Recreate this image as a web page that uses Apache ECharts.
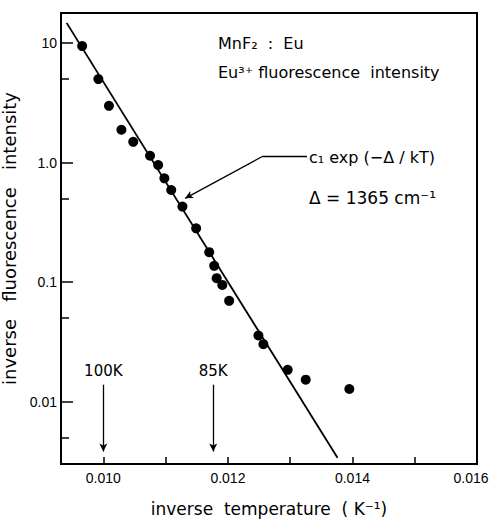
<!DOCTYPE html>
<html>
<head>
<meta charset="utf-8">
<script src="https://cdn.jsdelivr.net/npm/echarts@6/dist/echarts.min.js"></script>
<style>
  html, body { margin: 0; padding: 0; background: #fff; }
  #chart { width: 493px; height: 525px; }
</style>
</head>
<body>
<div id="chart"></div>
<script>
// MnF2:Eu - Eu3+ fluorescence intensity vs inverse temperature
var chart = echarts.init(document.getElementById('chart'), null, {renderer: 'svg'});

// measured points (1/T in K^-1, intensity)
var invTemp = [0.00966, 0.00992, 0.01009, 0.01029, 0.01048, 0.01075, 0.01088, 0.01098, 0.01109, 0.01127,
               0.01149, 0.01170, 0.01178, 0.01182, 0.01191, 0.01202, 0.01249, 0.01257, 0.01296, 0.01325, 0.01395];
var intensity = [9.4, 4.98, 2.98, 1.88, 1.49, 1.14, 0.953, 0.738, 0.589, 0.428,
                 0.282, 0.178, 0.137, 0.108, 0.0948, 0.0698, 0.0358, 0.0303, 0.0185, 0.0153, 0.0128];

// fitted c1 exp(-Δ/kT) line, end points
var fitX = [0.00941, 0.01376];
var fitY = [14.7, 0.0034];

// axis ranges and ticks
var xMin = 0.00932, xMax = 0.016;
var yMin = 0.00302, yMax = 17.78;
var xTicks = [0.010, 0.011, 0.012, 0.013, 0.014, 0.015, 0.016];
var xLabels = [0.010, 0.012, 0.014, 0.016];
var yMajor = [0.01, 0.1, 1, 10];
var yMajorText = ['0.01', '0.1', '1.0', '10'];
var yMinor = [0.005, 0.05, 0.5, 5];

// temperature markers
var markTemps = ['100K', '85K'];
var markX = [0.010, 1 / 85];
var markTop = 0.0139, markBottom = 0.00384;

// leader arrow to the fit line: text end, bend, tip
var leaderX = [0.01327, 0.012545, 0.011313];
var leaderY = [1.118, 1.118, 0.502];

var pts = invTemp.map(function (x, i) { return [x, intensity[i]]; });
var fit = fitX.map(function (x, i) { return [x, fitY[i]]; });

var font = 'Liberation Sans, Arial, sans-serif';
var wide = 'DejaVu Sans, sans-serif';

var markLines = markTemps.map(function (t, i) {
    return [
        {name: t, coord: [markX[i], markTop]},
        {coord: [markX[i], markBottom]}
    ];
});
markLines.push([
    {coord: [leaderX[0], leaderY[0]], symbol: 'none', label: {show: false}},
    {coord: [leaderX[1], leaderY[1]], symbol: 'none'}
]);
markLines.push([
    {coord: [leaderX[1], leaderY[1]], label: {show: false}},
    {coord: [leaderX[2], leaderY[2]]}
]);

var option = {
    animation: false,
    backgroundColor: '#fff',
    grid: {
        left: 61, right: 16, top: 13, bottom: 61,
        show: true, borderColor: '#000', borderWidth: 2,
        containLabel: false, outerBoundsMode: 'none'
    },
    xAxis: {
        type: 'value',
        min: xMin, max: xMax,
        splitLine: {show: false},
        axisLine: {lineStyle: {color: '#000', width: 2}},
        axisTick: {inside: true, length: 7, customValues: xTicks, lineStyle: {color: '#000', width: 1.5}},
        axisLabel: {
            customValues: xLabels, margin: 7, color: '#000', fontSize: 14, fontFamily: font,
            formatter: function (v) {
                return v > 0.0159 ? '{r|' + v.toFixed(3) + '}' : v.toFixed(3);
            },
            rich: {r: {color: '#000', fontSize: 14, fontFamily: font, padding: [0, 12, 0, 0]}}
        },
        name: 'inverse  temperature  ( K\u207B\u00B9)',
        nameLocation: 'middle', nameGap: 36,
        nameTextStyle: {color: '#000', fontSize: 17, fontFamily: wide}
    },
    yAxis: [{
        type: 'log',
        min: yMin, max: yMax,
        splitLine: {show: false},
        axisLine: {lineStyle: {color: '#000', width: 2}},
        axisTick: {inside: true, length: 12, customValues: yMajor, lineStyle: {color: '#000', width: 1.5}},
        axisLabel: {
            customValues: yMajor, margin: 4, color: '#000', fontSize: 14, fontFamily: font,
            formatter: function (v) {
                for (var i = 0; i < yMajor.length; i++) {
                    if (Math.abs(Math.log10(v) - Math.log10(yMajor[i])) < 1e-6) return yMajorText[i];
                }
                return '';
            }
        },
        name: 'inverse   fluorescence   intensity',
        nameLocation: 'middle', nameGap: 35,
        nameTextStyle: {color: '#000', fontSize: 18, fontFamily: wide}
    }, {
        type: 'log',
        position: 'left',
        min: yMin, max: yMax,
        splitLine: {show: false},
        axisLine: {show: false},
        axisTick: {inside: true, length: 8, customValues: yMinor, lineStyle: {color: '#000', width: 1.5}},
        axisLabel: {show: false}
    }],
    series: [
        {
            type: 'line',
            data: fit,
            showSymbol: false,
            lineStyle: {color: '#000', width: 1.8},
            markLine: {
                silent: true,
                symbol: ['none', 'arrow'],
                symbolSize: [6, 8],
                lineStyle: {color: '#000', width: 1.3, type: 'solid', opacity: 1},
                label: {
                    show: true, position: 'start', formatter: '{b}', distance: 6,
                    color: '#000', fontSize: 15, fontFamily: wide
                },
                emphasis: {disabled: true},
                data: markLines
            }
        },
        {
            type: 'scatter',
            data: pts,
            symbol: 'circle',
            symbolSize: 10,
            itemStyle: {color: '#000', opacity: 1}
        }
    ],
    graphic: [
        {type: 'text', x: 218, y: 43, style: {text: 'MnF\u2082  :  Eu', font: '16px ' + wide, fill: '#000', verticalAlign: 'middle'}},
        {type: 'text', x: 218, y: 72, style: {text: 'Eu\u00B3\u207A fluorescence  intensity', font: '16px ' + wide, fill: '#000', verticalAlign: 'middle'}},
        {type: 'text', x: 309, y: 157, style: {text: 'c\u2081 exp (\u2212\u0394 / kT)', font: '16px ' + wide, fill: '#000', verticalAlign: 'middle'}},
        {type: 'text', x: 309, y: 198, style: {text: '\u0394 = 1365 cm\u207B\u00B9', font: '17px ' + wide, fill: '#000', verticalAlign: 'middle'}}
    ]
};
chart.setOption(option);
</script>
</body>
</html>
